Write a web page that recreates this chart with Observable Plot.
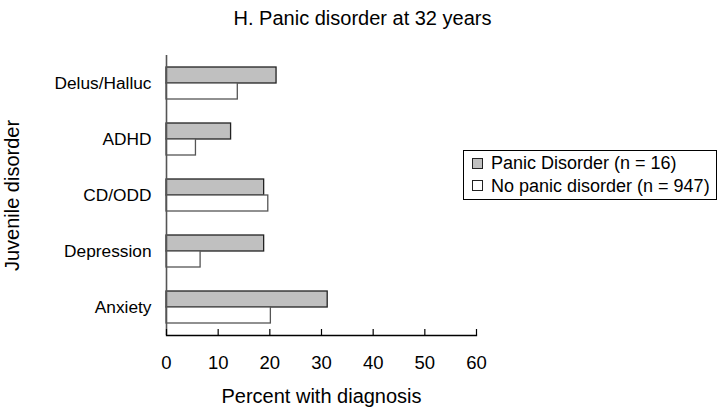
<!DOCTYPE html>
<html><head><meta charset="utf-8">
<script src="https://cdn.jsdelivr.net/npm/d3@7"></script>
<script src="https://cdn.jsdelivr.net/npm/@observablehq/plot@0.6"></script>
<style>
body{margin:0;background:#fff;font-family:"Liberation Sans",Arial,Helvetica,sans-serif;}
#wrap{position:relative;width:725px;height:409px;overflow:hidden;}
#title{position:absolute;left:0;top:7px;width:725px;text-align:center;font-size:20px;line-height:22px;color:#000;}
#legend{position:absolute;left:463px;top:150px;width:252px;border:1px solid #000;padding:1px 0 2px 0;background:#fff;}
.row{display:flex;align-items:center;height:22.5px;font-size:18px;line-height:22px;white-space:nowrap;}
.sw{width:9px;height:9px;margin-left:8px;margin-right:8px;border:1px solid #222;box-sizing:content-box;}
</style></head><body>
<div id="wrap"><div id="chart"></div><div id="title"></div><div id="legend"></div></div>
<script>
const chartTitle = "H. Panic disorder at 32 years";
const categories = ["Delus/Halluc", "ADHD", "CD/ODD", "Depression", "Anxiety"];
const seriesNames = ["Panic Disorder (n = 16)", "No panic disorder (n = 947)"];
const panicValues = [21.3, 12.5, 18.9, 18.9, 31.2];
const noPanicValues = [13.8, 5.7, 19.7, 6.6, 20.2];
const xTicks = [0, 10, 20, 30, 40, 50, 60];
const xLabel = "Percent with diagnosis";
const yLabel = "Juvenile disorder";
const seriesFill = ["#c0c0c0", "#ffffff"];
const seriesStroke = ["#222222", "#555555"];

const panicData = categories.map((c, i) => ({category: c, series: seriesNames[0], value: panicValues[i]}));
const noPanicData = categories.map((c, i) => ({category: c, series: seriesNames[1], value: noPanicValues[i]}));

const font = '"Liberation Sans", Arial, Helvetica, sans-serif';
const chart = Plot.plot({
  width: 725, height: 409,
  marginTop: 55, marginBottom: 74, marginLeft: 166, marginRight: 249,
  style: {fontFamily: font, background: "transparent", color: "#000"},
  x: {domain: [0, 60]},
  y: {domain: categories, paddingInner: 0.43, paddingOuter: 0.215},
  marks: [
    Plot.barX(panicData, {x: "value", y: "category", fill: seriesFill[0], stroke: seriesStroke[0], strokeWidth: 1.3, insetBottom: 16}),
    Plot.barX(noPanicData, {x: "value", y: "category", fill: seriesFill[1], stroke: seriesStroke[1], strokeWidth: 1.3, insetTop: 16}),
    Plot.ruleX([0], {stroke: "#555", strokeWidth: 1.6}),
    Plot.frame({anchor: "bottom", stroke: "#000", strokeWidth: 1.3}),
    Plot.ruleX(xTicks, {insetTop: 274, stroke: "#000", strokeWidth: 1.2}),
    Plot.axisX({ticks: xTicks, tickSize: 0, tickPadding: 20, fontSize: 18.5, label: xLabel, labelAnchor: "center", labelArrow: "none", labelOffset: 67}),
    Plot.axisY({tickSize: 0, tickPadding: 15, fontSize: 17.3, label: yLabel, labelAnchor: "center", labelArrow: "none", labelOffset: 162})
  ]
});
chart.querySelectorAll("[aria-label='x-axis label'] text").forEach(t => t.setAttribute("font-size", 20));
chart.querySelectorAll("[aria-label='y-axis label'] text").forEach(t => t.setAttribute("font-size", 20));
document.getElementById("chart").appendChild(chart);
document.getElementById("title").textContent = chartTitle;

const legend = document.getElementById("legend");
seriesNames.forEach((name, i) => {
  const row = document.createElement("div");
  row.className = "row";
  const sw = document.createElement("span");
  sw.className = "sw";
  sw.style.background = seriesFill[i];
  row.appendChild(sw);
  row.appendChild(document.createTextNode(name));
  legend.appendChild(row);
});
</script>
</body></html>
